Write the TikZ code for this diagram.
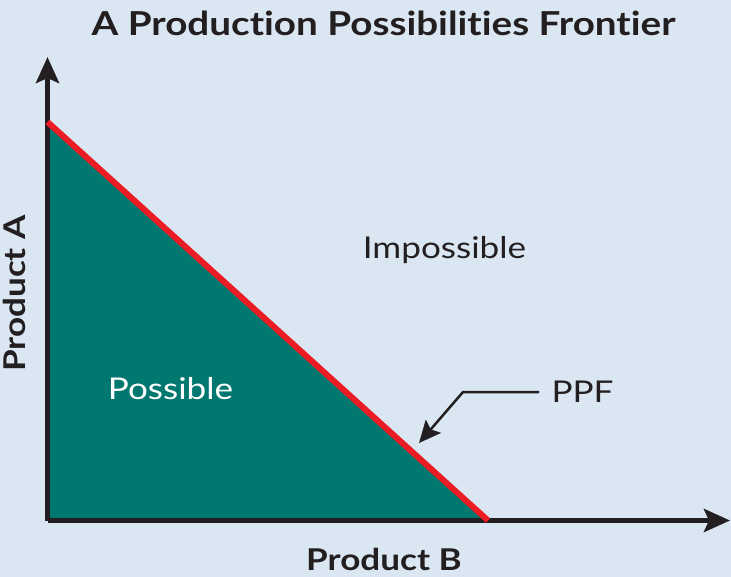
\documentclass[tikz,border=0pt]{standalone}
\usepackage{fontspec}
\setmainfont{Lato}[FakeStretch=1.17,Ligatures=NoCommon]
\usetikzlibrary{arrows.meta}
\definecolor{bgblue}{HTML}{DAE6F2}
\definecolor{ppfteal}{HTML}{00776F}
\definecolor{ppfred}{HTML}{EC1C24}
\definecolor{inkblack}{HTML}{231F20}
\tikzset{
	axisline/.style={line width=5pt,inkblack,-{Stealth[length=26pt,width=23pt,inset=5pt]}},
	ppfpointer/.style={line width=2.5pt,inkblack,line join=miter,-{Stealth[length=22pt,width=20pt,inset=4pt]}},
	axislabel/.style={font=\fontsize{30}{36}\selectfont\bfseries,text=inkblack},
	arealabel/.style={font=\fontsize{30}{36}\selectfont}
}
\begin{document}
\begin{tikzpicture}[x=1pt,y=-1pt,line cap=butt]
	\fill[bgblue] (0,0) rectangle (731,577);
	\useasboundingbox (0,0) rectangle (731,577);
	\coordinate (O) at (47.5,520.5);
	\coordinate (A) at (47.5,122);
	\coordinate (B) at (488,520.5);
	\coordinate (ytip) at (47.5,57);
	\coordinate (xtip) at (730,520.5);
	\fill[ppfteal] (A)--(B)--(O)--cycle;
	\draw[axisline] (O)--(ytip);
	\draw[axisline] (O)--(xtip);
	\draw[ppfred,line width=6pt,line cap=butt] (A)--(B);
	% labels
	\node[font=\fontsize{33}{40}\selectfont\bfseries,text=inkblack,anchor=base] (title) at (383.5,36) {A Production Possibilities Frontier};
	\node[axislabel,anchor=base] (prodB) at (384,570) {Product B};
	\node[axislabel,anchor=base,rotate=90] (prodA) at (25,293.5) {Product A};
	\node[arealabel,text=inkblack,anchor=base] (impossible) at (444.5,259) {Impossible};
	\node[arealabel,text=white,anchor=base] (possible) at (170.5,399) {Possible};
	\node[arealabel,text=inkblack,anchor=base west] (ppf) at (548,402) {PPF};
	\coordinate (bend) at (463,392);
	\coordinate (ppftip) at (419,443);
	\draw[ppfpointer] (539,392) coordinate (ppfstart)--(bend)--(ppftip);
\end{tikzpicture}
\end{document}
